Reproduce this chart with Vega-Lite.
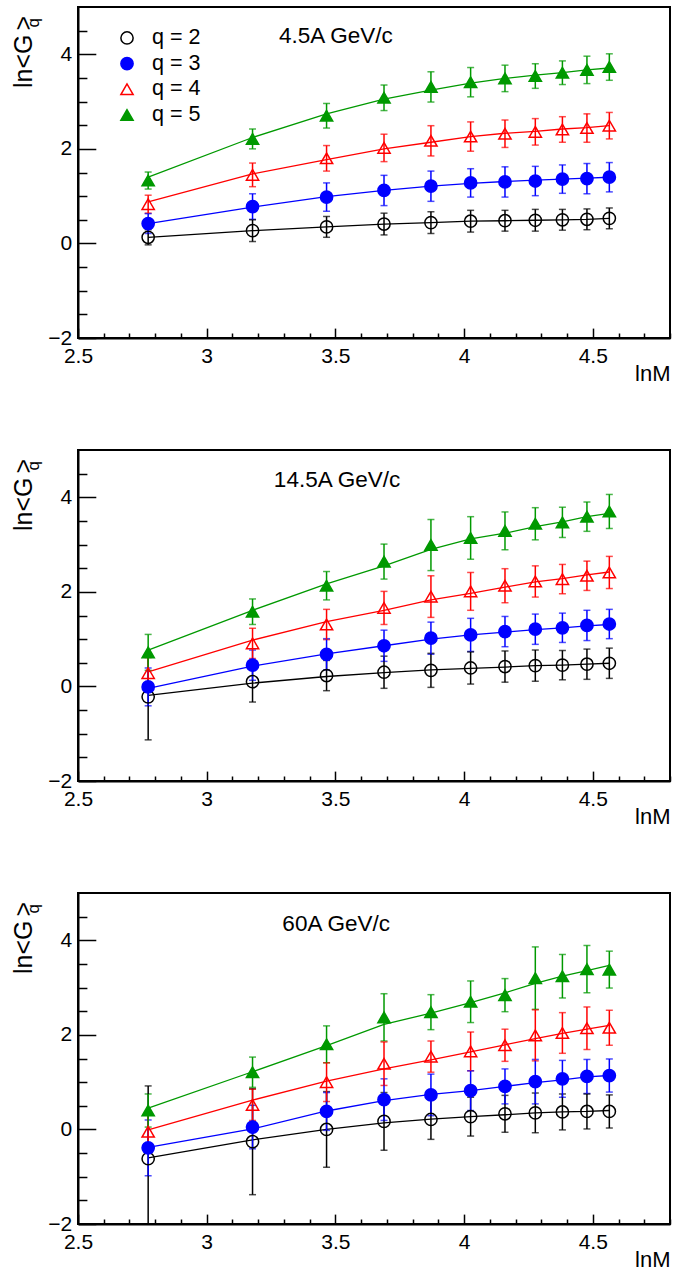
{
  "$schema": "https://vega.github.io/schema/vega-lite/v6.json",
  "autosize": {"type": "pad"},
  "padding": {"left": 11, "top": 6, "right": 2, "bottom": 2},
  "background": "white",
  "datasets": {
    "d": [
      {"p":1,"q":2,"lnM":2.7726,"g":0.13,"e":0.16,"f":0.13},
      {"p":1,"q":2,"lnM":3.1781,"g":0.27,"e":0.23,"f":0.27},
      {"p":1,"q":2,"lnM":3.4657,"g":0.35,"e":0.22,"f":0.35},
      {"p":1,"q":2,"lnM":3.6889,"g":0.41,"e":0.23,"f":0.41},
      {"p":1,"q":2,"lnM":3.8712,"g":0.44,"e":0.23,"f":0.44},
      {"p":1,"q":2,"lnM":4.0254,"g":0.47,"e":0.23,"f":0.47},
      {"p":1,"q":2,"lnM":4.1589,"g":0.48,"e":0.22,"f":0.48},
      {"p":1,"q":2,"lnM":4.2767,"g":0.49,"e":0.23,"f":0.49},
      {"p":1,"q":2,"lnM":4.3820,"g":0.50,"e":0.22,"f":0.50},
      {"p":1,"q":2,"lnM":4.4773,"g":0.51,"e":0.22,"f":0.51},
      {"p":1,"q":2,"lnM":4.5643,"g":0.53,"e":0.22,"f":0.53},
      {"p":1,"q":3,"lnM":2.7726,"g":0.42,"e":0.21,"f":0.42},
      {"p":1,"q":3,"lnM":3.1781,"g":0.78,"e":0.27,"f":0.77},
      {"p":1,"q":3,"lnM":3.4657,"g":0.98,"e":0.30,"f":0.99},
      {"p":1,"q":3,"lnM":3.6889,"g":1.12,"e":0.32,"f":1.12},
      {"p":1,"q":3,"lnM":3.8712,"g":1.21,"e":0.32,"f":1.21},
      {"p":1,"q":3,"lnM":4.0254,"g":1.28,"e":0.30,"f":1.27},
      {"p":1,"q":3,"lnM":4.1589,"g":1.30,"e":0.32,"f":1.31},
      {"p":1,"q":3,"lnM":4.2767,"g":1.32,"e":0.31,"f":1.34},
      {"p":1,"q":3,"lnM":4.3820,"g":1.36,"e":0.30,"f":1.36},
      {"p":1,"q":3,"lnM":4.4773,"g":1.37,"e":0.32,"f":1.38},
      {"p":1,"q":3,"lnM":4.5643,"g":1.40,"e":0.31,"f":1.40},
      {"p":1,"q":4,"lnM":2.7726,"g":0.83,"e":0.19,"f":0.88},
      {"p":1,"q":4,"lnM":3.1781,"g":1.45,"e":0.25,"f":1.47},
      {"p":1,"q":4,"lnM":3.4657,"g":1.80,"e":0.27,"f":1.77},
      {"p":1,"q":4,"lnM":3.6889,"g":2.02,"e":0.29,"f":2.00},
      {"p":1,"q":4,"lnM":3.8712,"g":2.17,"e":0.32,"f":2.14},
      {"p":1,"q":4,"lnM":4.0254,"g":2.26,"e":0.31,"f":2.26},
      {"p":1,"q":4,"lnM":4.1589,"g":2.32,"e":0.29,"f":2.33},
      {"p":1,"q":4,"lnM":4.2767,"g":2.36,"e":0.28,"f":2.37},
      {"p":1,"q":4,"lnM":4.3820,"g":2.41,"e":0.27,"f":2.42},
      {"p":1,"q":4,"lnM":4.4773,"g":2.44,"e":0.30,"f":2.45},
      {"p":1,"q":4,"lnM":4.5643,"g":2.49,"e":0.28,"f":2.49},
      {"p":1,"q":5,"lnM":2.7726,"g":1.33,"e":0.18,"f":1.40},
      {"p":1,"q":5,"lnM":3.1781,"g":2.21,"e":0.21,"f":2.24},
      {"p":1,"q":5,"lnM":3.4657,"g":2.70,"e":0.26,"f":2.74},
      {"p":1,"q":5,"lnM":3.6889,"g":3.08,"e":0.27,"f":3.05},
      {"p":1,"q":5,"lnM":3.8712,"g":3.31,"e":0.32,"f":3.24},
      {"p":1,"q":5,"lnM":4.0254,"g":3.41,"e":0.31,"f":3.39},
      {"p":1,"q":5,"lnM":4.1589,"g":3.49,"e":0.28,"f":3.49},
      {"p":1,"q":5,"lnM":4.2767,"g":3.54,"e":0.26,"f":3.56},
      {"p":1,"q":5,"lnM":4.3820,"g":3.61,"e":0.25,"f":3.61},
      {"p":1,"q":5,"lnM":4.4773,"g":3.67,"e":0.29,"f":3.67},
      {"p":1,"q":5,"lnM":4.5643,"g":3.73,"e":0.28,"f":3.71},
      {"p":2,"q":2,"lnM":2.7726,"g":-0.22,"e":0.91,"f":-0.19},
      {"p":2,"q":2,"lnM":3.1781,"g":0.10,"e":0.43,"f":0.07},
      {"p":2,"q":2,"lnM":3.4657,"g":0.23,"e":0.32,"f":0.21},
      {"p":2,"q":2,"lnM":3.6889,"g":0.30,"e":0.34,"f":0.29},
      {"p":2,"q":2,"lnM":3.8712,"g":0.34,"e":0.36,"f":0.35},
      {"p":2,"q":2,"lnM":4.0254,"g":0.39,"e":0.34,"f":0.38},
      {"p":2,"q":2,"lnM":4.1589,"g":0.42,"e":0.33,"f":0.41},
      {"p":2,"q":2,"lnM":4.2767,"g":0.44,"e":0.33,"f":0.44},
      {"p":2,"q":2,"lnM":4.3820,"g":0.45,"e":0.31,"f":0.45},
      {"p":2,"q":2,"lnM":4.4773,"g":0.47,"e":0.32,"f":0.47},
      {"p":2,"q":2,"lnM":4.5643,"g":0.49,"e":0.32,"f":0.49},
      {"p":2,"q":3,"lnM":2.7726,"g":-0.01,"e":0.40,"f":-0.04},
      {"p":2,"q":3,"lnM":3.1781,"g":0.45,"e":0.32,"f":0.43},
      {"p":2,"q":3,"lnM":3.4657,"g":0.68,"e":0.33,"f":0.69},
      {"p":2,"q":3,"lnM":3.6889,"g":0.86,"e":0.33,"f":0.86},
      {"p":2,"q":3,"lnM":3.8712,"g":1.02,"e":0.34,"f":1.00},
      {"p":2,"q":3,"lnM":4.0254,"g":1.09,"e":0.35,"f":1.09},
      {"p":2,"q":3,"lnM":4.1589,"g":1.16,"e":0.32,"f":1.15},
      {"p":2,"q":3,"lnM":4.2767,"g":1.21,"e":0.32,"f":1.20},
      {"p":2,"q":3,"lnM":4.3820,"g":1.24,"e":0.31,"f":1.24},
      {"p":2,"q":3,"lnM":4.4773,"g":1.29,"e":0.32,"f":1.28},
      {"p":2,"q":3,"lnM":4.5643,"g":1.32,"e":0.31,"f":1.31},
      {"p":2,"q":4,"lnM":2.7726,"g":0.28,"e":0.33,"f":0.31},
      {"p":2,"q":4,"lnM":3.1781,"g":0.91,"e":0.32,"f":0.98},
      {"p":2,"q":4,"lnM":3.4657,"g":1.31,"e":0.32,"f":1.37},
      {"p":2,"q":4,"lnM":3.6889,"g":1.66,"e":0.35,"f":1.61},
      {"p":2,"q":4,"lnM":3.8712,"g":1.90,"e":0.44,"f":1.83},
      {"p":2,"q":4,"lnM":4.0254,"g":2.01,"e":0.40,"f":1.97},
      {"p":2,"q":4,"lnM":4.1589,"g":2.13,"e":0.36,"f":2.10},
      {"p":2,"q":4,"lnM":4.2767,"g":2.22,"e":0.33,"f":2.21},
      {"p":2,"q":4,"lnM":4.3820,"g":2.27,"e":0.31,"f":2.28},
      {"p":2,"q":4,"lnM":4.4773,"g":2.34,"e":0.31,"f":2.36},
      {"p":2,"q":4,"lnM":4.5643,"g":2.41,"e":0.34,"f":2.42},
      {"p":2,"q":5,"lnM":2.7726,"g":0.72,"e":0.38,"f":0.77},
      {"p":2,"q":5,"lnM":3.1781,"g":1.58,"e":0.27,"f":1.61},
      {"p":2,"q":5,"lnM":3.4657,"g":2.13,"e":0.30,"f":2.17},
      {"p":2,"q":5,"lnM":3.6889,"g":2.64,"e":0.37,"f":2.55},
      {"p":2,"q":5,"lnM":3.8712,"g":2.99,"e":0.54,"f":2.90},
      {"p":2,"q":5,"lnM":4.0254,"g":3.14,"e":0.45,"f":3.12},
      {"p":2,"q":5,"lnM":4.1589,"g":3.29,"e":0.40,"f":3.24},
      {"p":2,"q":5,"lnM":4.2767,"g":3.44,"e":0.34,"f":3.38},
      {"p":2,"q":5,"lnM":4.3820,"g":3.47,"e":0.32,"f":3.48},
      {"p":2,"q":5,"lnM":4.4773,"g":3.59,"e":0.31,"f":3.59},
      {"p":2,"q":5,"lnM":4.5643,"g":3.70,"e":0.36,"f":3.66},
      {"p":3,"q":2,"lnM":2.7726,"g":-0.62,"e":1.54,"f":-0.60},
      {"p":3,"q":2,"lnM":3.1781,"g":-0.26,"e":1.12,"f":-0.22},
      {"p":3,"q":2,"lnM":3.4657,"g":0.00,"e":0.80,"f":0.00},
      {"p":3,"q":2,"lnM":3.6889,"g":0.17,"e":0.61,"f":0.14},
      {"p":3,"q":2,"lnM":3.8712,"g":0.21,"e":0.42,"f":0.22},
      {"p":3,"q":2,"lnM":4.0254,"g":0.27,"e":0.41,"f":0.27},
      {"p":3,"q":2,"lnM":4.1589,"g":0.33,"e":0.39,"f":0.31},
      {"p":3,"q":2,"lnM":4.2767,"g":0.35,"e":0.42,"f":0.35},
      {"p":3,"q":2,"lnM":4.3820,"g":0.37,"e":0.38,"f":0.37},
      {"p":3,"q":2,"lnM":4.4773,"g":0.38,"e":0.37,"f":0.38},
      {"p":3,"q":2,"lnM":4.5643,"g":0.38,"e":0.35,"f":0.40},
      {"p":3,"q":3,"lnM":2.7726,"g":-0.39,"e":0.59,"f":-0.38},
      {"p":3,"q":3,"lnM":3.1781,"g":0.05,"e":0.46,"f":0.01},
      {"p":3,"q":3,"lnM":3.4657,"g":0.38,"e":0.40,"f":0.39},
      {"p":3,"q":3,"lnM":3.6889,"g":0.63,"e":0.44,"f":0.61},
      {"p":3,"q":3,"lnM":3.8712,"g":0.73,"e":0.44,"f":0.74},
      {"p":3,"q":3,"lnM":4.0254,"g":0.82,"e":0.42,"f":0.82},
      {"p":3,"q":3,"lnM":4.1589,"g":0.91,"e":0.37,"f":0.91},
      {"p":3,"q":3,"lnM":4.2767,"g":1.01,"e":0.47,"f":0.99},
      {"p":3,"q":3,"lnM":4.3820,"g":1.07,"e":0.39,"f":1.05},
      {"p":3,"q":3,"lnM":4.4773,"g":1.12,"e":0.36,"f":1.11},
      {"p":3,"q":3,"lnM":4.5643,"g":1.14,"e":0.35,"f":1.14},
      {"p":3,"q":4,"lnM":2.7726,"g":-0.05,"e":0.37,"f":-0.01},
      {"p":3,"q":4,"lnM":3.1781,"g":0.52,"e":0.33,"f":0.62},
      {"p":3,"q":4,"lnM":3.4657,"g":1.00,"e":0.41,"f":1.02},
      {"p":3,"q":4,"lnM":3.6889,"g":1.39,"e":0.46,"f":1.28},
      {"p":3,"q":4,"lnM":3.8712,"g":1.54,"e":0.33,"f":1.47},
      {"p":3,"q":4,"lnM":4.0254,"g":1.65,"e":0.41,"f":1.64},
      {"p":3,"q":4,"lnM":4.1589,"g":1.78,"e":0.34,"f":1.79},
      {"p":3,"q":4,"lnM":4.2767,"g":1.99,"e":0.54,"f":1.92},
      {"p":3,"q":4,"lnM":4.3820,"g":2.04,"e":0.43,"f":2.03},
      {"p":3,"q":4,"lnM":4.4773,"g":2.14,"e":0.45,"f":2.12},
      {"p":3,"q":4,"lnM":4.5643,"g":2.15,"e":0.37,"f":2.20},
      {"p":3,"q":5,"lnM":2.7726,"g":0.40,"e":0.35,"f":0.45},
      {"p":3,"q":5,"lnM":3.1781,"g":1.21,"e":0.32,"f":1.22},
      {"p":3,"q":5,"lnM":3.4657,"g":1.80,"e":0.39,"f":1.77},
      {"p":3,"q":5,"lnM":3.6889,"g":2.37,"e":0.50,"f":2.22},
      {"p":3,"q":5,"lnM":3.8712,"g":2.48,"e":0.37,"f":2.46},
      {"p":3,"q":5,"lnM":4.0254,"g":2.70,"e":0.44,"f":2.68},
      {"p":3,"q":5,"lnM":4.1589,"g":2.84,"e":0.35,"f":2.89},
      {"p":3,"q":5,"lnM":4.2767,"g":3.20,"e":0.66,"f":3.09},
      {"p":3,"q":5,"lnM":4.3820,"g":3.24,"e":0.46,"f":3.24},
      {"p":3,"q":5,"lnM":4.4773,"g":3.39,"e":0.50,"f":3.36},
      {"p":3,"q":5,"lnM":4.5643,"g":3.38,"e":0.39,"f":3.47}
    ]
  },
  "data": {"name": "d"},
  "spacing": 112,
  "bounds": "flush",
  "vconcat": [
    {
      "width": 592, "height": 331,
      "transform": [{"filter": "datum.p == 1"}],
      "resolve": {"axis": {"x": "independent", "y": "independent"}},
      "layer": [
        {
          "mark": {"type": "line", "strokeWidth": 1.3, "clip": true},
          "encoding": {
            "x": {"field": "lnM", "type": "quantitative", "scale": {"domain": [2.5, 4.8], "nice": false, "zero": false},
              "axis": {"orient": "bottom", "values": [2.5, 3, 3.5, 4, 4.5], "format": "~g", "tickSize": -9.9, "labelPadding": 17,
                "title": "lnM", "titleFontSize": 22, "titleX": 592, "titleY": 42, "titleAlign": "right", "titleBaseline": "alphabetic"}},
            "y": {"field": "f", "type": "quantitative", "scale": {"domain": [-2, 5], "nice": false, "zero": false},
              "axis": {"orient": "left", "values": [-2, 0, 2, 4], "format": "~g", "tickSize": -17.8, "labelPadding": 24, "title": null}},
            "color": {"field": "q", "type": "nominal", "scale": {"domain": [2,3,4,5], "range": ["#000000","#0000ff","#ff0000","#009900"]}, "legend": null}
          }
        },
        {
          "mark": {"type": "errorbar", "ticks": {"size": 7}, "thickness": 1.5, "clip": true},
          "encoding": {
            "x": {"field": "lnM", "type": "quantitative",
              "axis": {"orient": "bottom", "values": [2.6,2.7,2.8,2.9,3.1,3.2,3.3,3.4,3.6,3.7,3.8,3.9,4.1,4.2,4.3,4.4,4.6,4.7,4.8], "tickSize": -5, "labels": false, "domain": false, "title": null}},
            "y": {"field": "g", "type": "quantitative",
              "axis": {"orient": "left", "values": [-1.5,-1,-0.5,0.5,1,1.5,2.5,3,3.5,4.5], "tickSize": -8.9, "labels": false, "domain": false, "title": null}},
            "yError": {"field": "e"},
            "color": {"field": "q", "type": "nominal", "legend": null}
          }
        },
        {
          "mark": {"type": "point", "strokeWidth": 1.5, "opacity": 1},
          "encoding": {
            "x": {"field": "lnM", "type": "quantitative", "axis": null},
            "y": {"field": "g", "type": "quantitative", "axis": null},
            "shape": {"field": "q", "type": "nominal", "scale": {"domain": [2,3,4,5], "range": ["circle","circle","triangle-up","triangle-up"]}, "legend": null},
            "fill": {"field": "q", "type": "nominal", "scale": {"domain": [2,3,4,5], "range": ["transparent","#0000ff","transparent","#009900"]}, "legend": null},
            "stroke": {"field": "q", "type": "nominal", "scale": {"domain": [2,3,4,5], "range": ["#000000","#0000ff","#ff0000","#009900"]}, "legend": null},
            "size": {"field": "q", "type": "ordinal", "scale": {"domain": [2,3,4,5], "range": [150,150,230,230]}, "legend": null}
          }
        },
        {
          "data": {"values": [{"q": 2}]},
          "mark": {"type": "point", "strokeWidth": 1.5, "opacity": 1},
          "encoding": {
            "x": {"datum": 2.6904, "type": "quantitative", "axis": null},
            "y": {"datum": 4.3445, "type": "quantitative", "axis": null},
            "shape": {"field": "q", "type": "nominal", "legend": null},
            "fill": {"field": "q", "type": "nominal", "legend": null},
            "stroke": {"field": "q", "type": "nominal", "legend": null},
            "size": {"field": "q", "type": "ordinal", "legend": null}
          }
        },
        {
          "data": {"values": [{"q": 3}]},
          "mark": {"type": "point", "strokeWidth": 1.5, "opacity": 1},
          "encoding": {
            "x": {"datum": 2.6904, "type": "quantitative", "axis": null},
            "y": {"datum": 3.801, "type": "quantitative", "axis": null},
            "shape": {"field": "q", "type": "nominal", "legend": null},
            "fill": {"field": "q", "type": "nominal", "legend": null},
            "stroke": {"field": "q", "type": "nominal", "legend": null},
            "size": {"field": "q", "type": "ordinal", "legend": null}
          }
        },
        {
          "data": {"values": [{"q": 4}]},
          "mark": {"type": "point", "strokeWidth": 1.5, "opacity": 1},
          "encoding": {
            "x": {"datum": 2.6904, "type": "quantitative", "axis": null},
            "y": {"datum": 3.26, "type": "quantitative", "axis": null},
            "shape": {"field": "q", "type": "nominal", "legend": null},
            "fill": {"field": "q", "type": "nominal", "legend": null},
            "stroke": {"field": "q", "type": "nominal", "legend": null},
            "size": {"field": "q", "type": "ordinal", "legend": null}
          }
        },
        {
          "data": {"values": [{"q": 5}]},
          "mark": {"type": "point", "strokeWidth": 1.5, "opacity": 1},
          "encoding": {
            "x": {"datum": 2.6904, "type": "quantitative", "axis": null},
            "y": {"datum": 2.716, "type": "quantitative", "axis": null},
            "shape": {"field": "q", "type": "nominal", "legend": null},
            "fill": {"field": "q", "type": "nominal", "legend": null},
            "stroke": {"field": "q", "type": "nominal", "legend": null},
            "size": {"field": "q", "type": "ordinal", "legend": null}
          }
        },
        {
          "data": {"values": [{}]},
          "mark": {"type": "text", "text": "q = 2", "align": "left", "baseline": "middle", "fontSize": 21.5},
          "encoding": {"x": {"datum": 2.7875, "type": "quantitative", "axis": null}, "y": {"datum": 4.3445, "type": "quantitative", "axis": null}}
        },
        {
          "data": {"values": [{}]},
          "mark": {"type": "text", "text": "q = 3", "align": "left", "baseline": "middle", "fontSize": 21.5},
          "encoding": {"x": {"datum": 2.7875, "type": "quantitative", "axis": null}, "y": {"datum": 3.801, "type": "quantitative", "axis": null}}
        },
        {
          "data": {"values": [{}]},
          "mark": {"type": "text", "text": "q = 4", "align": "left", "baseline": "middle", "fontSize": 21.5},
          "encoding": {"x": {"datum": 2.7875, "type": "quantitative", "axis": null}, "y": {"datum": 3.26, "type": "quantitative", "axis": null}}
        },
        {
          "data": {"values": [{}]},
          "mark": {"type": "text", "text": "q = 5", "align": "left", "baseline": "middle", "fontSize": 21.5},
          "encoding": {"x": {"datum": 2.7875, "type": "quantitative", "axis": null}, "y": {"datum": 2.716, "type": "quantitative", "axis": null}}
        },
        {
          "data": {"values": [{}]},
          "mark": {"type": "text", "text": "4.5A GeV/c", "align": "left", "baseline": "alphabetic", "fontSize": 22.5},
          "encoding": {"x": {"datum": 3.281, "type": "quantitative", "axis": null}, "y": {"datum": 4.241, "type": "quantitative", "axis": null}}
        },
        {
          "data": {"values": [{}]},
          "mark": {"type": "text", "text": "ln<G", "align": "left", "baseline": "alphabetic", "angle": 270, "fontSize": 25},
          "encoding": {"x": {"datum": 2.3213, "type": "quantitative", "axis": null}, "y": {"datum": 3.287, "type": "quantitative", "axis": null}}
        },
        {
          "data": {"values": [{}]},
          "mark": {"type": "text", "text": "q", "align": "left", "baseline": "alphabetic", "angle": 270, "fontSize": 17},
          "encoding": {"x": {"datum": 2.3504, "type": "quantitative", "axis": null}, "y": {"datum": 4.5665, "type": "quantitative", "axis": null}}
        },
        {
          "data": {"values": [{}]},
          "mark": {"type": "text", "text": ">", "align": "left", "baseline": "alphabetic", "angle": 270, "fontSize": 25},
          "encoding": {"x": {"datum": 2.3213, "type": "quantitative", "axis": null}, "y": {"datum": 4.503, "type": "quantitative", "axis": null}}
        }
      ]
    },
    {
      "width": 592, "height": 331,
      "transform": [{"filter": "datum.p == 2"}],
      "resolve": {"axis": {"x": "independent", "y": "independent"}},
      "layer": [
        {
          "mark": {"type": "line", "strokeWidth": 1.3, "clip": true},
          "encoding": {
            "x": {"field": "lnM", "type": "quantitative", "scale": {"domain": [2.5, 4.8], "nice": false, "zero": false},
              "axis": {"orient": "bottom", "values": [2.5, 3, 3.5, 4, 4.5], "format": "~g", "tickSize": -9.9, "labelPadding": 17,
                "title": "lnM", "titleFontSize": 22, "titleX": 592, "titleY": 42, "titleAlign": "right", "titleBaseline": "alphabetic"}},
            "y": {"field": "f", "type": "quantitative", "scale": {"domain": [-2, 5], "nice": false, "zero": false},
              "axis": {"orient": "left", "values": [-2, 0, 2, 4], "format": "~g", "tickSize": -17.8, "labelPadding": 24, "title": null}},
            "color": {"field": "q", "type": "nominal", "scale": {"domain": [2,3,4,5], "range": ["#000000","#0000ff","#ff0000","#009900"]}, "legend": null}
          }
        },
        {
          "mark": {"type": "errorbar", "ticks": {"size": 7}, "thickness": 1.5, "clip": true},
          "encoding": {
            "x": {"field": "lnM", "type": "quantitative",
              "axis": {"orient": "bottom", "values": [2.6,2.7,2.8,2.9,3.1,3.2,3.3,3.4,3.6,3.7,3.8,3.9,4.1,4.2,4.3,4.4,4.6,4.7,4.8], "tickSize": -5, "labels": false, "domain": false, "title": null}},
            "y": {"field": "g", "type": "quantitative",
              "axis": {"orient": "left", "values": [-1.5,-1,-0.5,0.5,1,1.5,2.5,3,3.5,4.5], "tickSize": -8.9, "labels": false, "domain": false, "title": null}},
            "yError": {"field": "e"},
            "color": {"field": "q", "type": "nominal", "legend": null}
          }
        },
        {
          "mark": {"type": "point", "strokeWidth": 1.5, "opacity": 1},
          "encoding": {
            "x": {"field": "lnM", "type": "quantitative", "axis": null},
            "y": {"field": "g", "type": "quantitative", "axis": null},
            "shape": {"field": "q", "type": "nominal", "scale": {"domain": [2,3,4,5], "range": ["circle","circle","triangle-up","triangle-up"]}, "legend": null},
            "fill": {"field": "q", "type": "nominal", "scale": {"domain": [2,3,4,5], "range": ["transparent","#0000ff","transparent","#009900"]}, "legend": null},
            "stroke": {"field": "q", "type": "nominal", "scale": {"domain": [2,3,4,5], "range": ["#000000","#0000ff","#ff0000","#009900"]}, "legend": null},
            "size": {"field": "q", "type": "ordinal", "scale": {"domain": [2,3,4,5], "range": [150,150,230,230]}, "legend": null}
          }
        },
        {
          "data": {"values": [{}]},
          "mark": {"type": "text", "text": "14.5A GeV/c", "align": "left", "baseline": "alphabetic", "fontSize": 22.5},
          "encoding": {"x": {"datum": 3.261, "type": "quantitative", "axis": null}, "y": {"datum": 4.213, "type": "quantitative", "axis": null}}
        },
        {
          "data": {"values": [{}]},
          "mark": {"type": "text", "text": "ln<G", "align": "left", "baseline": "alphabetic", "angle": 270, "fontSize": 25},
          "encoding": {"x": {"datum": 2.3213, "type": "quantitative", "axis": null}, "y": {"datum": 3.287, "type": "quantitative", "axis": null}}
        },
        {
          "data": {"values": [{}]},
          "mark": {"type": "text", "text": "q", "align": "left", "baseline": "alphabetic", "angle": 270, "fontSize": 17},
          "encoding": {"x": {"datum": 2.3504, "type": "quantitative", "axis": null}, "y": {"datum": 4.5665, "type": "quantitative", "axis": null}}
        },
        {
          "data": {"values": [{}]},
          "mark": {"type": "text", "text": ">", "align": "left", "baseline": "alphabetic", "angle": 270, "fontSize": 25},
          "encoding": {"x": {"datum": 2.3213, "type": "quantitative", "axis": null}, "y": {"datum": 4.503, "type": "quantitative", "axis": null}}
        }
      ]
    },
    {
      "width": 592, "height": 331,
      "transform": [{"filter": "datum.p == 3"}],
      "resolve": {"axis": {"x": "independent", "y": "independent"}},
      "layer": [
        {
          "mark": {"type": "line", "strokeWidth": 1.3, "clip": true},
          "encoding": {
            "x": {"field": "lnM", "type": "quantitative", "scale": {"domain": [2.5, 4.8], "nice": false, "zero": false},
              "axis": {"orient": "bottom", "values": [2.5, 3, 3.5, 4, 4.5], "format": "~g", "tickSize": -9.9, "labelPadding": 17,
                "title": "lnM", "titleFontSize": 22, "titleX": 592, "titleY": 42, "titleAlign": "right", "titleBaseline": "alphabetic"}},
            "y": {"field": "f", "type": "quantitative", "scale": {"domain": [-2, 5], "nice": false, "zero": false},
              "axis": {"orient": "left", "values": [-2, 0, 2, 4], "format": "~g", "tickSize": -17.8, "labelPadding": 24, "title": null}},
            "color": {"field": "q", "type": "nominal", "scale": {"domain": [2,3,4,5], "range": ["#000000","#0000ff","#ff0000","#009900"]}, "legend": null}
          }
        },
        {
          "mark": {"type": "errorbar", "ticks": {"size": 7}, "thickness": 1.5, "clip": true},
          "encoding": {
            "x": {"field": "lnM", "type": "quantitative",
              "axis": {"orient": "bottom", "values": [2.6,2.7,2.8,2.9,3.1,3.2,3.3,3.4,3.6,3.7,3.8,3.9,4.1,4.2,4.3,4.4,4.6,4.7,4.8], "tickSize": -5, "labels": false, "domain": false, "title": null}},
            "y": {"field": "g", "type": "quantitative",
              "axis": {"orient": "left", "values": [-1.5,-1,-0.5,0.5,1,1.5,2.5,3,3.5,4.5], "tickSize": -8.9, "labels": false, "domain": false, "title": null}},
            "yError": {"field": "e"},
            "color": {"field": "q", "type": "nominal", "legend": null}
          }
        },
        {
          "mark": {"type": "point", "strokeWidth": 1.5, "opacity": 1},
          "encoding": {
            "x": {"field": "lnM", "type": "quantitative", "axis": null},
            "y": {"field": "g", "type": "quantitative", "axis": null},
            "shape": {"field": "q", "type": "nominal", "scale": {"domain": [2,3,4,5], "range": ["circle","circle","triangle-up","triangle-up"]}, "legend": null},
            "fill": {"field": "q", "type": "nominal", "scale": {"domain": [2,3,4,5], "range": ["transparent","#0000ff","transparent","#009900"]}, "legend": null},
            "stroke": {"field": "q", "type": "nominal", "scale": {"domain": [2,3,4,5], "range": ["#000000","#0000ff","#ff0000","#009900"]}, "legend": null},
            "size": {"field": "q", "type": "ordinal", "scale": {"domain": [2,3,4,5], "range": [150,150,230,230]}, "legend": null}
          }
        },
        {
          "data": {"values": [{}]},
          "mark": {"type": "text", "text": "60A GeV/c", "align": "left", "baseline": "alphabetic", "fontSize": 22.5},
          "encoding": {"x": {"datum": 3.294, "type": "quantitative", "axis": null}, "y": {"datum": 4.19, "type": "quantitative", "axis": null}}
        },
        {
          "data": {"values": [{}]},
          "mark": {"type": "text", "text": "ln<G", "align": "left", "baseline": "alphabetic", "angle": 270, "fontSize": 25},
          "encoding": {"x": {"datum": 2.3213, "type": "quantitative", "axis": null}, "y": {"datum": 3.287, "type": "quantitative", "axis": null}}
        },
        {
          "data": {"values": [{}]},
          "mark": {"type": "text", "text": "q", "align": "left", "baseline": "alphabetic", "angle": 270, "fontSize": 17},
          "encoding": {"x": {"datum": 2.3504, "type": "quantitative", "axis": null}, "y": {"datum": 4.5665, "type": "quantitative", "axis": null}}
        },
        {
          "data": {"values": [{}]},
          "mark": {"type": "text", "text": ">", "align": "left", "baseline": "alphabetic", "angle": 270, "fontSize": 25},
          "encoding": {"x": {"datum": 2.3213, "type": "quantitative", "axis": null}, "y": {"datum": 4.503, "type": "quantitative", "axis": null}}
        }
      ]
    }
  ],
  "config": {
    "view": {"stroke": "black", "strokeWidth": 2},
    "axis": {"domainColor": "black", "domainWidth": 2, "tickColor": "black", "tickWidth": 1.5, "labelColor": "black", "labelFont": "Liberation Sans", "labelFontSize": 21, "titleFont": "Liberation Sans", "titleFontSize": 21, "titleFontWeight": "normal", "titleColor": "black", "grid": false, "labelFlush": false, "labelOverlap": false, "labelBound": false},
    "text": {"font": "Liberation Sans", "color": "black"}
  }
}
